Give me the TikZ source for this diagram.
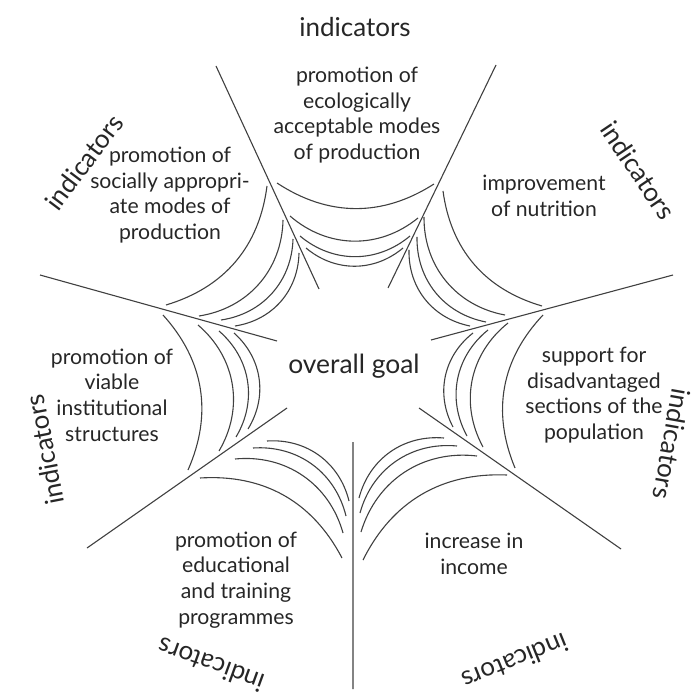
\documentclass[tikz,border=0pt]{standalone}
\usepackage{fontspec}
\setmainfont{Lato}
\begin{document}
\begin{tikzpicture}[x=0.5pt,y=0.5pt,
    spoke/.style={draw=black!75,line width=0.55pt},
    webout/.style={draw=black!75,line width=0.55pt,bend left=33},
    webin/.style={draw=black!75,line width=0.55pt,bend left=40},
    field/.style={align=center,text=black!85,font=\fontsize{10.6}{12.85}\selectfont},
    ind/.style={text=black!85,font=\fontsize{13}{14}\selectfont}]
	\useasboundingbox (0,0) rectangle (691,-694);
	\coordinate (ulIn) at (319,-289); \coordinate (ulOut) at (216,-66);
	\coordinate (urIn) at (388,-288); \coordinate (urOut) at (496,-65);
	\coordinate (rIn) at (431,-340); \coordinate (rOut) at (673,-275);
	\coordinate (lrIn) at (419,-408); \coordinate (lrOut) at (621,-549);
	\coordinate (bIn) at (353,-442); \coordinate (bOut) at (353,-689);
	\coordinate (llIn) at (287,-408); \coordinate (llOut) at (87,-548);
	\coordinate (lIn) at (277,-341); \coordinate (lOut) at (40,-275);
	\draw[spoke] (ulIn) -- (ulOut) (urIn) -- (urOut) (rIn) -- (rOut) (lrIn) -- (lrOut);
	\draw[spoke] (bIn) -- (bOut) (llIn) -- (llOut) (lIn) -- (lOut);
	% web between the spokes
	\draw[webout] (434,-184) to (277,-183);
	\draw[webin] (418,-218) to (290,-216) (410,-236) to (300,-236) (403,-248) to (306,-248);
	\draw[webout] (542,-306) to (443,-191);
	\draw[webin] (505,-315) to (424,-217) (486,-322) to (417,-237) (470,-326) to (409,-250);
	\draw[webout] (515,-468) to (543,-315);
	\draw[webin] (483,-447) to (508,-323) (467,-436) to (488,-330) (453,-427) to (473,-333);
	\draw[webout] (363,-560) to (507,-475);
	\draw[webin] (361,-532) to (477,-456) (360,-513) to (457,-446) (359,-498) to (444,-438);
	\draw[webout] (200,-478) to (342,-558);
	\draw[webin] (235,-459) to (343,-533) (253,-448) to (346,-516) (267,-441) to (349,-501);
	\draw[webout] (163,-315) to (188,-470);
	\draw[webin] (198,-325) to (219,-451) (219,-331) to (236,-437) (234,-333) to (248,-429);
	\draw[webout] (267,-186) to (166,-305);
	\draw[webin] (283,-220) to (199,-316) (293,-239) to (221,-320) (299,-253) to (235,-326);
	\node[field,font=\fontsize{13.2}{14}\selectfont] (goal) at (354,-366) {overall goal};
	\node[field] (ecology) at (357,-115) {promotion of\\ecologically\\acceptable modes\\of production};
	\node[field] (nutrition) at (544,-196) {improvement\\of nutrition};
	\node[field] (support) at (594,-395) {support for\\disadvantaged\\sections of the\\population};
	\node[field] (income) at (474,-554) {increase in\\income};
	\node[field] (education) at (236,-580) {promotion of\\educational\\and training\\programmes};
	\node[field] (institution) at (112,-395) {promotion of\\viable\\institutional\\structures};
	\node[field] (social) at (170,-195) {promotion of\\socially appropri-\\ate modes of\\production};
	\node[ind] (indTop) at (355,-27) {indicators};
	\node[ind,rotate=-56] (indUR) at (638,-170) {indicators};
	\node[ind,rotate=-100] (indR) at (672,-444) {indicators};
	\node[ind,rotate=-158] (indLR) at (515,-662) {indicators};
	\node[ind,rotate=160] (indLL) at (211,-665) {indicators};
	\node[ind,rotate=101] (indL) at (45,-450) {indicators};
	\node[ind,rotate=53] (indUL) at (84,-162) {indicators};
\end{tikzpicture}
\end{document}
